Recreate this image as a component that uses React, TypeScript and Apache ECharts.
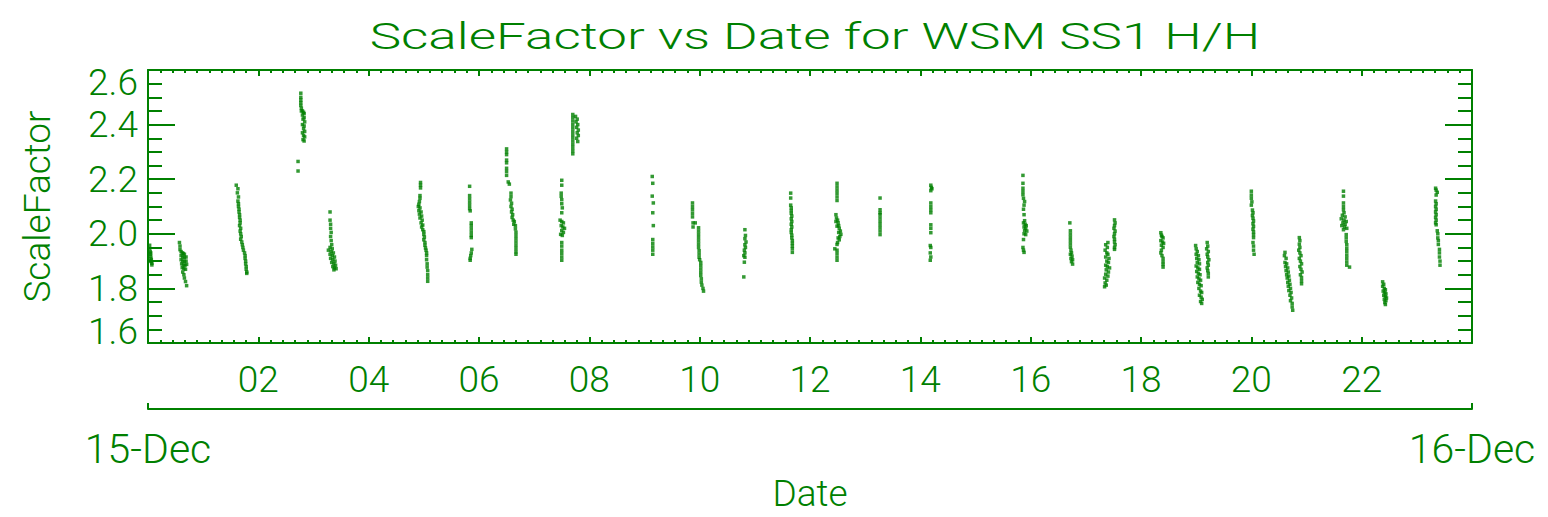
import React, { useEffect, useRef } from "react";
import * as echarts from "echarts";

// ScaleFactor measurements per overpass, [hour of 15-Dec, scale factor]
const p0003 = [[0.03,1.958],[0.03,1.945],[0.04,1.935],[0.04,1.925],[0.05,1.918],[0.05,1.91],[0.06,1.905],[0.06,1.898],[0.07,1.892],[0.07,1.886],[0.04,1.9],[0.05,1.93]];
const p0038 = [[0.57,1.968],[0.58,1.955],[0.58,1.942],[0.6,1.935],[0.62,1.93],[0.64,1.928],[0.66,1.925],[0.6,1.92],[0.63,1.915],[0.66,1.912],[0.69,1.915],[0.6,1.905],[0.63,1.9],[0.66,1.898],[0.69,1.9],[0.61,1.89],[0.64,1.886],[0.67,1.884],[0.7,1.888],[0.62,1.876],[0.65,1.872],[0.68,1.87],[0.63,1.86],[0.65,1.85],[0.66,1.838],[0.68,1.825],[0.7,1.81]];
const p0140 = [[1.6,2.178],[1.63,2.165],[1.62,2.15],[1.64,2.135],[1.63,2.12],[1.64,2.11],[1.64,2.1],[1.65,2.09],[1.65,2.08],[1.66,2.07],[1.66,2.06],[1.67,2.05],[1.67,2.04],[1.66,2.03],[1.68,2.02],[1.67,2.01],[1.68,2.0],[1.69,1.99],[1.68,1.98],[1.7,1.97],[1.71,1.96],[1.72,1.95],[1.73,1.94],[1.75,1.93],[1.76,1.92],[1.76,1.91],[1.77,1.9],[1.77,1.89],[1.78,1.88],[1.78,1.87],[1.79,1.86],[1.79,1.855]];
const p0247 = [[2.77,2.515],[2.77,2.5],[2.77,2.49],[2.77,2.48],[2.77,2.47],[2.78,2.46],[2.78,2.45],[2.8,2.45],[2.82,2.445],[2.83,2.44],[2.8,2.435],[2.83,2.425],[2.81,2.42],[2.84,2.41],[2.8,2.4],[2.83,2.395],[2.82,2.385],[2.84,2.375],[2.8,2.37],[2.82,2.36],[2.84,2.355],[2.81,2.345],[2.83,2.34],[2.72,2.265],[2.72,2.23]];
const p0319 = [[3.3,2.08],[3.3,2.05],[3.31,2.035],[3.31,2.02],[3.32,2.005],[3.31,1.99],[3.32,1.975],[3.33,1.96],[3.3,1.95],[3.34,1.945],[3.27,1.94],[3.32,1.935],[3.36,1.93],[3.3,1.925],[3.34,1.92],[3.38,1.915],[3.31,1.91],[3.35,1.905],[3.39,1.9],[3.33,1.895],[3.37,1.89],[3.4,1.885],[3.35,1.88],[3.38,1.875],[3.41,1.872],[3.37,1.868]];
const p0458 = [[4.94,2.188],[4.94,2.178],[4.94,2.168],[4.93,2.14],[4.93,2.13],[4.92,2.118],[4.91,2.108],[4.9,2.1],[4.93,2.095],[4.91,2.085],[4.95,2.08],[4.92,2.072],[4.96,2.065],[4.93,2.058],[4.97,2.05],[4.95,2.04],[4.98,2.032],[4.96,2.025],[4.98,2.015],[5.0,2.008],[5.0,1.998],[5.01,1.988],[5.0,1.978],[5.02,1.968],[5.02,1.958],[5.03,1.948],[5.04,1.94],[5.05,1.93],[5.05,1.92],[5.05,1.905],[5.06,1.89],[5.06,1.878],[5.07,1.865],[5.07,1.85],[5.07,1.838],[5.07,1.826]];
const p0550 = [[5.83,2.174],[5.83,2.14],[5.83,2.128],[5.83,2.116],[5.83,2.104],[5.83,2.092],[5.84,2.084],[5.86,2.04],[5.86,2.03],[5.86,2.018],[5.86,2.006],[5.86,1.994],[5.86,1.986],[5.87,1.943],[5.86,1.93],[5.85,1.92],[5.84,1.91],[5.84,1.903]];
const p0635 = [[6.5,2.311],[6.5,2.3],[6.5,2.29],[6.5,2.27],[6.5,2.26],[6.5,2.24],[6.5,2.228],[6.5,2.214],[6.53,2.19],[6.55,2.182],[6.58,2.149],[6.58,2.136],[6.57,2.124],[6.59,2.112],[6.58,2.1],[6.6,2.09],[6.59,2.08],[6.61,2.07],[6.6,2.06],[6.62,2.05],[6.64,2.045],[6.63,2.035],[6.66,2.03],[6.66,2.018],[6.67,2.006],[6.67,1.994],[6.67,1.982],[6.67,1.97],[6.67,1.958],[6.67,1.946],[6.67,1.934],[6.67,1.925]];
const p0730 = [[7.5,2.196],[7.5,2.178],[7.49,2.149],[7.49,2.137],[7.5,2.125],[7.5,2.11],[7.51,2.095],[7.5,2.077],[7.47,2.05],[7.5,2.045],[7.53,2.04],[7.49,2.03],[7.52,2.025],[7.55,2.02],[7.5,2.012],[7.53,2.005],[7.48,1.998],[7.51,1.994],[7.5,1.968],[7.5,1.955],[7.5,1.94],[7.5,1.928],[7.5,1.915],[7.5,1.903]];
const p0744 = [[7.7,2.437],[7.7,2.425],[7.7,2.413],[7.7,2.4],[7.7,2.388],[7.7,2.376],[7.7,2.364],[7.7,2.352],[7.7,2.34],[7.7,2.328],[7.7,2.316],[7.7,2.304],[7.7,2.293],[7.75,2.43],[7.78,2.42],[7.76,2.41],[7.79,2.4],[7.77,2.39],[7.8,2.38],[7.78,2.37],[7.8,2.36],[7.77,2.35],[7.79,2.338]];
const p0909 = [[9.14,2.21],[9.15,2.185],[9.14,2.138],[9.16,2.113],[9.15,2.077],[9.16,2.03],[9.15,1.979],[9.15,1.965],[9.15,1.952],[9.15,1.94],[9.15,1.925]];
const p0958 = [[9.87,2.113],[9.87,2.1],[9.87,2.088],[9.87,2.075],[9.87,2.062],[9.88,2.04],[9.88,2.025],[9.92,2.04],[9.98,2.022],[9.98,2.01],[9.98,1.998],[9.98,1.986],[9.98,1.974],[9.98,1.962],[9.98,1.95],[9.99,1.938],[9.99,1.926],[9.99,1.914],[10.0,1.905],[10.02,1.895],[10.02,1.883],[10.02,1.871],[10.02,1.859],[10.02,1.847],[10.03,1.835],[10.03,1.823],[10.04,1.812],[10.06,1.8],[10.07,1.79]];
const p1049 = [[10.82,2.015],[10.83,1.994],[10.82,1.982],[10.84,1.97],[10.82,1.96],[10.83,1.95],[10.81,1.94],[10.82,1.93],[10.8,1.92],[10.82,1.914],[10.81,1.896],[10.8,1.842]];
const p1140 = [[11.65,2.149],[11.65,2.131],[11.65,2.105],[11.66,2.095],[11.66,2.085],[11.66,2.075],[11.67,2.065],[11.66,2.055],[11.67,2.045],[11.66,2.035],[11.67,2.025],[11.66,2.015],[11.66,2.005],[11.67,1.995],[11.67,1.985],[11.68,1.975],[11.68,1.965],[11.68,1.955],[11.68,1.945],[11.68,1.932]];
const p1230 = [[12.49,2.185],[12.49,2.172],[12.49,2.16],[12.49,2.148],[12.49,2.135],[12.49,2.122],[12.47,2.07],[12.48,2.058],[12.5,2.05],[12.47,2.045],[12.51,2.04],[12.52,2.03],[12.49,2.028],[12.53,2.02],[12.55,2.01],[12.52,2.005],[12.56,1.998],[12.54,1.99],[12.51,1.985],[12.53,1.978],[12.5,1.968],[12.49,1.961],[12.45,1.945],[12.49,1.94],[12.49,1.928],[12.49,1.915],[12.49,1.903]];
const p1316 = [[13.27,2.131],[13.27,2.088],[13.27,2.077],[13.27,2.07],[13.27,2.058],[13.27,2.046],[13.27,2.034],[13.27,2.022],[13.27,2.01],[13.27,1.997]];
const p1411 = [[14.19,2.178],[14.2,2.17],[14.21,2.165],[14.19,2.158],[14.19,2.113],[14.19,2.1],[14.19,2.088],[14.19,2.077],[14.19,2.033],[14.19,2.02],[14.19,2.004],[14.18,1.957],[14.19,1.95],[14.18,1.93],[14.19,1.915],[14.18,1.903]];
const p1553 = [[15.86,2.214],[15.86,2.185],[15.86,2.167],[15.86,2.155],[15.86,2.143],[15.87,2.13],[15.89,2.118],[15.88,2.105],[15.87,2.09],[15.88,2.07],[15.89,2.048],[15.87,2.04],[15.9,2.035],[15.92,2.03],[15.88,2.025],[15.91,2.02],[15.89,2.012],[15.93,2.01],[15.88,2.0],[15.91,1.997],[15.87,1.979],[15.86,1.95],[15.87,1.94],[15.88,1.932]];
const p1643 = [[16.71,2.04],[16.72,2.011],[16.72,1.999],[16.72,1.987],[16.72,1.975],[16.72,1.963],[16.72,1.951],[16.73,1.94],[16.74,1.93],[16.72,1.925],[16.75,1.918],[16.73,1.91],[16.76,1.905],[16.74,1.898],[16.76,1.889]];
const p1722 = [[17.4,1.968],[17.36,1.96],[17.39,1.95],[17.35,1.94],[17.38,1.93],[17.4,1.925],[17.36,1.915],[17.42,1.91],[17.38,1.9],[17.41,1.895],[17.36,1.885],[17.39,1.88],[17.43,1.875],[17.37,1.868],[17.41,1.86],[17.36,1.852],[17.4,1.845],[17.34,1.838],[17.38,1.83],[17.35,1.82],[17.37,1.812],[17.34,1.806],[17.52,2.051],[17.53,2.04],[17.52,2.03],[17.51,2.02],[17.53,2.01],[17.52,2.0],[17.51,1.99],[17.52,1.98],[17.52,1.97],[17.53,1.96],[17.52,1.95],[17.52,1.943]];
const p1822 = [[18.36,2.004],[18.37,1.995],[18.38,1.99],[18.4,1.985],[18.36,1.975],[18.39,1.97],[18.41,1.965],[18.37,1.958],[18.4,1.95],[18.37,1.94],[18.36,1.93],[18.38,1.92],[18.4,1.91],[18.4,1.898],[18.4,1.888],[18.4,1.878]];
const p1900 = [[18.99,1.957],[19.0,1.945],[19.02,1.935],[19.0,1.925],[19.04,1.92],[19.01,1.91],[19.05,1.905],[19.02,1.895],[19.06,1.89],[19.0,1.882],[19.03,1.875],[19.06,1.87],[19.01,1.862],[19.04,1.855],[19.07,1.85],[19.02,1.842],[19.05,1.835],[19.08,1.83],[19.03,1.822],[19.06,1.815],[19.09,1.81],[19.05,1.8],[19.08,1.79],[19.1,1.785],[19.06,1.775],[19.09,1.768],[19.11,1.76],[19.08,1.752],[19.1,1.745],[19.2,1.968],[19.21,1.955],[19.19,1.945],[19.22,1.935],[19.2,1.925],[19.21,1.915],[19.23,1.905],[19.21,1.895],[19.22,1.885],[19.2,1.875],[19.21,1.865],[19.22,1.855],[19.22,1.842]];
const p2002 = [[20.0,2.156],[20.0,2.142],[20.0,2.13],[20.01,2.117],[20.0,2.105],[20.02,2.087],[20.03,2.077],[20.02,2.067],[20.03,2.057],[20.04,2.047],[20.03,2.037],[20.04,2.027],[20.03,2.017],[20.04,2.007],[20.04,1.997],[20.04,1.986],[20.03,1.968],[20.04,1.955],[20.04,1.94],[20.05,1.925]];
const p2040 = [[20.61,1.932],[20.6,1.92],[20.63,1.91],[20.61,1.895],[20.64,1.89],[20.62,1.88],[20.66,1.875],[20.63,1.865],[20.67,1.86],[20.64,1.85],[20.68,1.845],[20.65,1.838],[20.69,1.83],[20.66,1.822],[20.7,1.815],[20.67,1.808],[20.71,1.8],[20.68,1.792],[20.72,1.785],[20.7,1.775],[20.73,1.765],[20.71,1.755],[20.74,1.745],[20.74,1.732],[20.75,1.72],[20.87,1.986],[20.88,1.975],[20.87,1.962],[20.88,1.95],[20.86,1.94],[20.88,1.93],[20.9,1.92],[20.87,1.91],[20.89,1.9],[20.91,1.89],[20.88,1.88],[20.9,1.87],[20.92,1.86],[20.89,1.85],[20.91,1.84],[20.91,1.828],[20.91,1.817]];
const p2140 = [[21.67,2.156],[21.67,2.138],[21.67,2.113],[21.67,2.1],[21.67,2.088],[21.68,2.077],[21.65,2.068],[21.7,2.062],[21.63,2.055],[21.68,2.05],[21.72,2.045],[21.66,2.04],[21.7,2.035],[21.64,2.03],[21.69,2.025],[21.73,2.02],[21.67,2.015],[21.72,1.997],[21.72,1.985],[21.72,1.972],[21.73,1.96],[21.73,1.947],[21.73,1.935],[21.73,1.922],[21.73,1.91],[21.73,1.897],[21.73,1.885],[21.78,1.878]];
const p2224 = [[22.38,1.824],[22.4,1.815],[22.38,1.808],[22.41,1.8],[22.43,1.795],[22.39,1.79],[22.42,1.785],[22.44,1.78],[22.4,1.775],[22.43,1.77],[22.45,1.765],[22.41,1.76],[22.44,1.755],[22.42,1.748],[22.43,1.741]];
const p2321 = [[23.34,2.167],[23.35,2.16],[23.37,2.152],[23.35,2.142],[23.34,2.12],[23.35,2.11],[23.34,2.1],[23.35,2.09],[23.34,2.08],[23.35,2.07],[23.34,2.06],[23.35,2.05],[23.34,2.04],[23.35,2.033],[23.37,2.011],[23.38,2.0],[23.38,1.985],[23.39,1.975],[23.39,1.961],[23.41,1.943],[23.41,1.93],[23.41,1.915],[23.42,1.9],[23.42,1.885]];

const passes = [p0003, p0038, p0140, p0247, p0319, p0458, p0550, p0635, p0730, p0744, p0909, p0958, p1049, p1140, p1230, p1316, p1411, p1553, p1643, p1722, p1822, p1900, p2002, p2040, p2140, p2224, p2321];

const hourTicks = [2, 4, 6, 8, 10, 12, 14, 16, 18, 20, 22];
const dayLabels = ["15-Dec", "16-Dec"];
const titleText = "ScaleFactor vs Date for WSM SS1 H/H";
const yName = "ScaleFactor";
const xName = "Date";

const GREEN = "#008000";
const FONT = "Roboto, 'Liberation Sans', sans-serif";

export default function App() {
  const ref = useRef<HTMLDivElement>(null);

  useEffect(() => {
    if (!ref.current) return;
    const chart = echarts.init(ref.current, null, { renderer: "svg" });
    const axisLine = { show: true, onZero: false, lineStyle: { color: GREEN, width: 2 } };
    const textBase = { color: GREEN, fontFamily: FONT, fontWeight: 300, fontSize: 37 };

    const hourAxis = (pos: "top" | "bottom", labels: boolean) => ({
      type: "value",
      position: pos,
      min: 0,
      max: 24,
      interval: 2,
      axisLine,
      axisTick: { show: true, inside: true, length: 6, lineStyle: { color: GREEN, width: 2 } },
      minorTick: { show: true, splitNumber: 9, length: 3, lineStyle: { color: GREEN, width: 2 } },
      splitLine: { show: false },
      axisLabel: labels
        ? {
            show: true,
            ...textBase,
            margin: 18,
            formatter: (v: number) => (hourTicks.includes(v) ? String(v).padStart(2, "0") : ""),
          }
        : { show: false },
    });

    const valueAxis = (pos: "left" | "right", labels: boolean) => ({
      type: "value",
      position: pos,
      min: 1.6,
      max: 2.6,
      interval: 0.2,
      axisLine,
      axisTick: { show: true, inside: true, length: 27, lineStyle: { color: GREEN, width: 2 } },
      minorTick: { show: true, splitNumber: 4, length: 14, lineStyle: { color: GREEN, width: 2 } },
      splitLine: { show: false },
      name: labels ? yName : "",
      nameLocation: "middle",
      nameGap: 92,
      nameTextStyle: { ...textBase },
      axisLabel: labels
        ? {
            show: true,
            ...textBase,
            lineHeight: 24,
            margin: 10,
            showMinLabel: true,
            showMaxLabel: true,
            hideOverlap: false,
            verticalAlignMinLabel: "bottom",
            verticalAlignMaxLabel: "top",
            formatter: (v: number) => v.toFixed(1),
          }
        : { show: false },
    });

    chart.setOption({
      animation: false,
      backgroundColor: "#ffffff",
      grid: { left: 148, top: 70, width: 1324, height: 277, containLabel: false },
      xAxis: [
        hourAxis("bottom", true),
        hourAxis("top", false),
        {
          type: "value",
          position: "bottom",
          offset: 66,
          min: 0,
          max: 24,
          interval: 24,
          axisLine,
          axisTick: { show: true, inside: true, length: 6, lineStyle: { color: GREEN, width: 2 } },
          splitLine: { show: false },
          axisLabel: {
            show: true,
            ...textBase,
            fontSize: 41,
            margin: 19,
            showMinLabel: true,
            showMaxLabel: true,
            formatter: (v: number) => (v === 0 ? dayLabels[0] : v === 24 ? dayLabels[1] : ""),
          },
          name: xName,
          nameLocation: "middle",
          nameGap: 66,
          nameTextStyle: { ...textBase },
        },
      ],
      yAxis: [valueAxis("left", true), valueAxis("right", false)],
      graphic: [
        {
          type: "text",
          x: 815,
          y: 36,
          scaleY: 0.7,
          style: {
            text: titleText,
            fill: GREEN,
            fontFamily: FONT,
            fontWeight: 300,
            fontSize: 53,
            align: "center",
            verticalAlign: "middle",
            textAlign: "center",
            textVerticalAlign: "middle",
          },
        },
      ],
      series: [
        {
          type: "scatter",
          xAxisIndex: 0,
          yAxisIndex: 0,
          symbol: "rect",
          symbolSize: 3.5,
          itemStyle: { color: GREEN },
          data: passes.flat(),
        },
      ],
    });
    return () => chart.dispose();
  }, []);

  return (
    <div
      ref={ref}
      style={{ position: "fixed", left: 0, top: 0, width: 1548, height: 517 }}
    />
  );
}
